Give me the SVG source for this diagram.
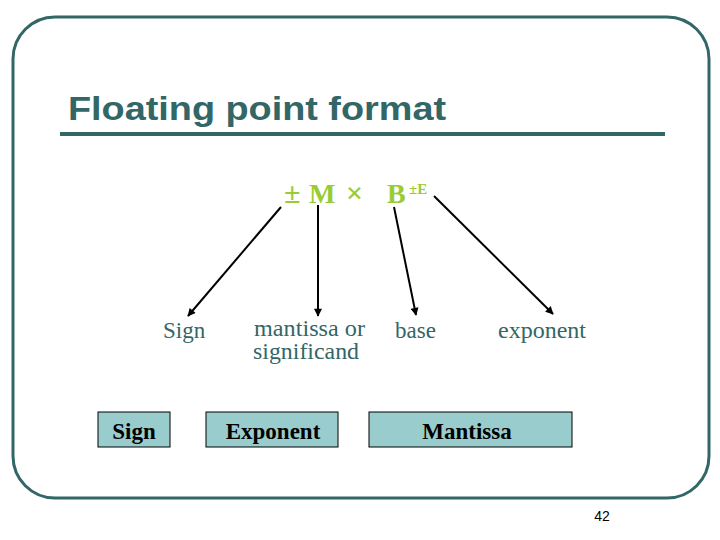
<svg xmlns="http://www.w3.org/2000/svg" width="720" height="540" viewBox="0 0 720 540">
<defs>
<style>
.frame{fill:none;stroke:#336666;stroke-width:3}
.title{font-family:"Liberation Sans",Arial,sans-serif;font-weight:bold;font-size:34px;fill:#336666}
.formula{font-family:"Liberation Serif","Times New Roman",serif;font-weight:bold;fill:#99cc33}
.lbl{font-family:"Liberation Serif","Times New Roman",serif;font-size:23px;fill:#336666}
.box{fill:#99cccc;stroke:#000;stroke-width:1}
.btxt{font-family:"Liberation Serif","Times New Roman",serif;font-weight:bold;font-size:23px;fill:#000;text-anchor:middle}
.conn{stroke:#000;stroke-width:2;fill:none;marker-end:url(#ah)}
</style>
<marker id="ah" viewBox="0 0 10 10" refX="9" refY="5" markerWidth="5" markerHeight="4" orient="auto" markerUnits="strokeWidth">
<path d="M0,0 L10,5 L0,10 z" fill="#000"/>
</marker>
</defs>
<rect class="frame" x="13" y="17" width="696" height="481" rx="42" ry="42"/>
<text class="title" x="68" y="120" textLength="378" lengthAdjust="spacingAndGlyphs">Floating point format</text>
<line x1="60" y1="134" x2="665" y2="134" stroke="#336666" stroke-width="4"/>
<g id="formula">
<text class="formula" x="284" y="203" font-size="30">±</text>
<text class="formula" x="309" y="203" font-size="28">M</text>
<text class="formula" x="346" y="203" font-size="30">×</text>
<text class="formula" x="387" y="203" font-size="28">B</text>
<text class="formula" x="409" y="194" font-size="15">±E</text>
</g>
<g id="connectors">
<line class="conn" x1="281" y1="207" x2="188" y2="316"/>
<line class="conn" x1="318" y1="205" x2="318" y2="316"/>
<line class="conn" x1="394" y1="207" x2="416" y2="315"/>
<line class="conn" x1="434" y1="196" x2="553" y2="314"/>
</g>
<g id="lbl-sign"><text class="lbl" x="163" y="338">Sign</text></g>
<g id="lbl-mantissa"><text class="lbl" x="254" y="336" font-size="20" textLength="111" lengthAdjust="spacingAndGlyphs">mantissa or</text><text class="lbl" x="253" y="359" font-size="20" textLength="106" lengthAdjust="spacingAndGlyphs">significand</text></g>
<g id="lbl-base"><text class="lbl" x="395" y="338">base</text></g>
<g id="lbl-exponent"><text class="lbl" x="498" y="338" textLength="88" lengthAdjust="spacingAndGlyphs">exponent</text></g>
<g id="box-sign"><rect class="box" x="98" y="412" width="72" height="35"/><text class="btxt" x="134" y="439">Sign</text></g>
<g id="box-exponent"><rect class="box" x="206" y="412" width="132" height="35"/><text class="btxt" x="273" y="439">Exponent</text></g>
<g id="box-mantissa"><rect class="box" x="369" y="412" width="203" height="35"/><text class="btxt" x="467" y="439">Mantissa</text></g>
<text x="602" y="521" font-family="Liberation Sans,Arial,sans-serif" font-size="14" fill="#000" text-anchor="middle">42</text>
</svg>
